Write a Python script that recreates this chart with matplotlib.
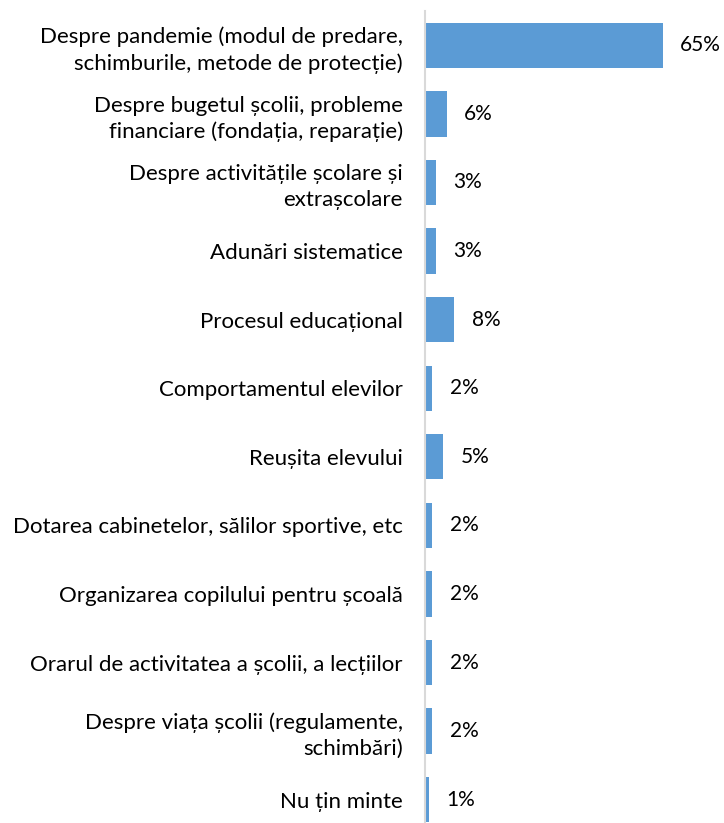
import matplotlib.pyplot as plt

categories = [
    "Despre pandemie (modul de predare,\nschimburile, metode de protecție)",
    "Despre bugetul școlii, probleme\nfinanciare (fondația, reparație)",
    "Despre activitățile școlare și\nextrașcolare",
    "Adunări sistematice",
    "Procesul educațional",
    "Comportamentul elevilor",
    "Reușita elevului",
    "Dotarea cabinetelor, sălilor sportive, etc",
    "Organizarea copilului pentru școală",
    "Orarul de activitatea a școlii, a lecțiilor",
    "Despre viața școlii (regulamente,\nschimbări)",
    "Nu țin minte",
]
values = [65, 6, 3, 3, 8, 2, 5, 2, 2, 2, 2, 1]

plt.rcParams['font.family'] = ['Lato', 'DejaVu Sans']

W, H = 724, 823
fig = plt.figure(figsize=(W / 100, H / 100), dpi=100)

# axes placed in pixel terms: y axis at x=425, rows 68.6 px apart
left = 425 / W
top = 1 - 11 / H
bottom = 1 - 834 / H
ax = fig.add_axes([left, bottom, 1 - left, top - bottom])

pos = range(len(values))
bars = ax.barh(pos, values, height=0.66, color="#5B9BD5")
ax.set_ylim(len(values) - 0.5, -0.5)
ax.set_xlim(0, 299 / 3.66)

ax.set_yticks(list(pos))
ax.set_yticklabels(categories, fontsize=16, linespacing=1.36, ha="right")
ax.tick_params(axis="y", length=0, pad=16)
ax.set_xticks([])

for s in ["top", "right", "bottom"]:
    ax.spines[s].set_visible(False)
ax.spines["left"].set_color("#D9D9D9")
ax.spines["left"].set_linewidth(1.5)

for b, v in zip(bars, values):
    ax.annotate(f"{v}%", (b.get_width(), b.get_y() + b.get_height() / 2),
                xytext=(12.5, 0), textcoords="offset points",
                va="center", ha="left", fontsize=15)

fig.savefig("out.png", dpi=100)
